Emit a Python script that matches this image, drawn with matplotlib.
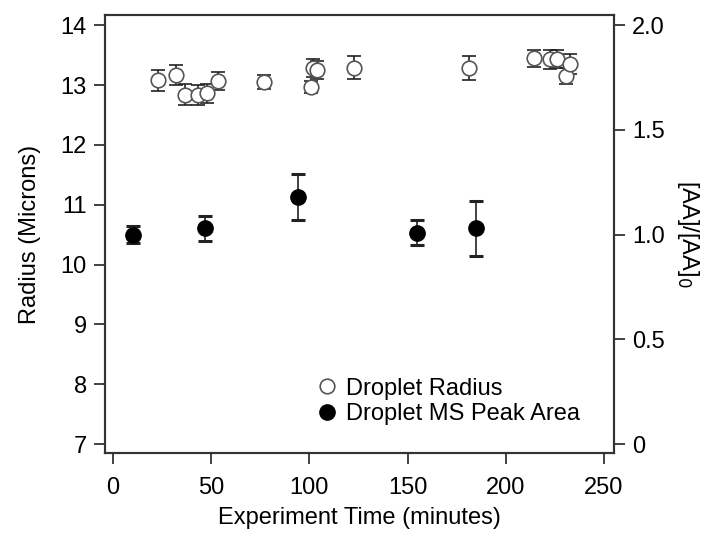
import matplotlib
matplotlib.use('Agg')
import matplotlib.pyplot as plt
from matplotlib.lines import Line2D

plt.rcParams['font.family'] = ['Liberation Sans', 'DejaVu Sans']
plt.rcParams['font.size'] = 17

# droplet radius (left axis)
radius_time = [23.1, 31.9, 36.7, 43.4, 47.7, 53.6, 76.9, 100.7, 102.0, 103.7,
               122.7, 181.4, 214.5, 222.5, 226.2, 230.6, 232.7]
radius = [13.08, 13.17, 12.84, 12.83, 12.86, 13.06, 13.05, 12.96, 13.29, 13.25,
          13.29, 13.28, 13.45, 13.43, 13.44, 13.15, 13.35]
radius_err = [0.18, 0.17, 0.17, 0.17, 0.16, 0.15, 0.12, 0.10, 0.15, 0.15,
              0.19, 0.20, 0.14, 0.16, 0.15, 0.14, 0.17]

# MS peak area ratio (right axis)
ms_time = [10, 47, 94, 155, 185]
ms_ratio = [1.0, 1.03, 1.18, 1.01, 1.03]
ms_err = [0.04, 0.06, 0.11, 0.06, 0.13]

fig = plt.figure(figsize=(7.17, 5.38), dpi=100)
ax = fig.add_axes([0.1464, 0.158, 0.7099, 0.814])
ax2 = ax.twinx()

ax.errorbar(radius_time, radius, yerr=radius_err, fmt='o', ms=10.5,
            mfc='white', mec='#555555', mew=1.2, ecolor='#222222',
            elinewidth=1.2, capsize=5, capthick=2.2)
ax2.errorbar(ms_time, ms_ratio, yerr=ms_err, fmt='o', ms=11,
             mfc='black', mec='black', ecolor='#222222',
             elinewidth=1.2, capsize=5, capthick=2.2)

ax.set_xlim(-4.1, 255.1)
ax.set_ylim(6.85, 14.17)
ax2.set_ylim((6.85 - 7) / 3.5, (14.17 - 7) / 3.5)

ax.set_xticks([0, 50, 100, 150, 200, 250])
ax.set_yticks([7, 8, 9, 10, 11, 12, 13, 14])
ax2.set_yticks([0, 0.5, 1.0, 1.5, 2.0])
ax2.set_yticklabels(['0', '0.5', '1.0', '1.5', '2.0'])

for a in (ax, ax2):
    for s in a.spines.values():
        s.set_linewidth(1.5)
        s.set_color('#333333')
    a.tick_params(direction='out', length=8, width=1.3, color='#333333',
                  labelsize=17, pad=5)
ax.tick_params(axis='x', pad=9)

ax.set_xlabel('Experiment Time (minutes)', fontsize=17, labelpad=6)
ax.set_ylabel('Radius (Microns)', fontsize=17, labelpad=14)
ax2.set_ylabel('[AA]/[AA]$_0$', fontsize=17, rotation=270, labelpad=26)

handles = [Line2D([], [], ls='none', marker='o', ms=10.5, mfc='white',
                  mec='#555555', mew=1.2),
           Line2D([], [], ls='none', marker='o', ms=11, mfc='black',
                  mec='black')]
ax.legend(handles, ['Droplet Radius', 'Droplet MS Peak Area'],
          loc='lower right', bbox_to_anchor=(0.975, 0.015), frameon=False,
          handletextpad=0.3, labelspacing=0.15, fontsize=17, handlelength=1.0)

fig.savefig('out.png', dpi=100)
